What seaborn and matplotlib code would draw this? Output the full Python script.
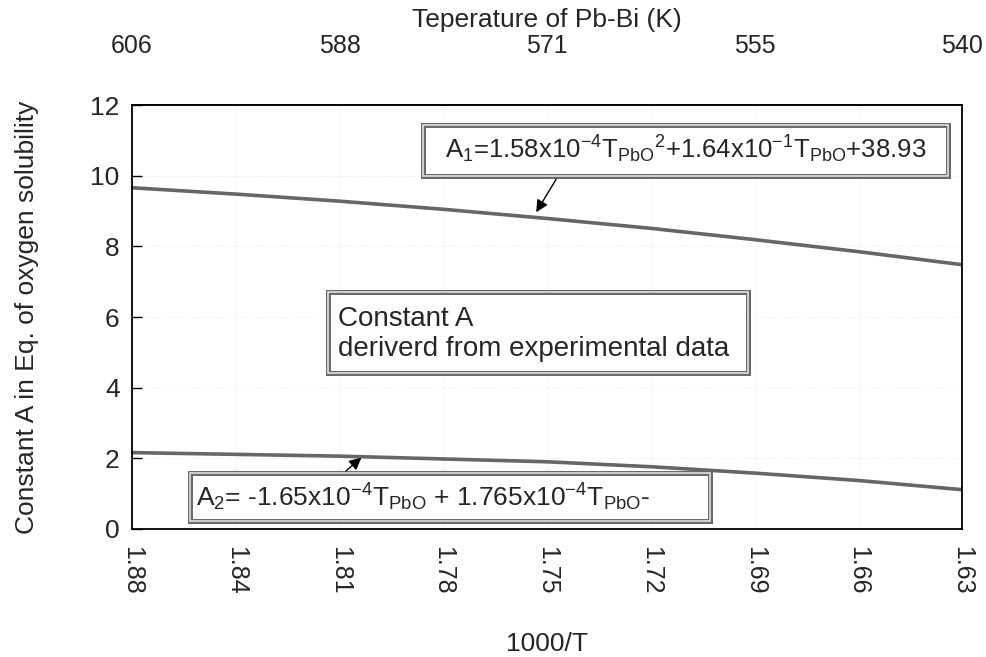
import pandas as pd
import matplotlib
matplotlib.use('Agg')
import matplotlib.pyplot as plt
from matplotlib.patches import Rectangle
import seaborn as sns

sns.set_theme(style='white')
plt.rcParams['font.family'] = ['Liberation Sans', 'DejaVu Sans']
plt.rcParams['mathtext.fontset'] = 'custom'
plt.rcParams['mathtext.rm'] = 'Liberation Sans'
plt.rcParams['mathtext.it'] = 'Liberation Sans:italic'

# data
inv_T_labels = ['1.88', '1.84', '1.81', '1.78', '1.75', '1.72', '1.69', '1.66', '1.63']
temp_labels = ['606', '588', '571', '555', '540']
A1 = [9.66, 9.48, 9.28, 9.05, 8.79, 8.51, 8.19, 7.85, 7.48]
A2 = [2.16, 2.11, 2.06, 1.98, 1.90, 1.76, 1.58, 1.37, 1.11]

pos = list(range(len(inv_T_labels)))
df = pd.DataFrame({'pos': pos * 2,
                   'A': A1 + A2,
                   'serie': ['A1'] * len(A1) + ['A2'] * len(A2)})

fig = plt.figure(figsize=(9.86, 6.57), dpi=100)
ax = fig.add_axes([0.134, 0.195, 0.842, 0.645])

sns.lineplot(data=df, x='pos', y='A', units='serie', estimator=None,
             color='#666666', lw=2.6, ax=ax)

ax.set_xlim(0, 8)
ax.set_ylim(0, 12)
ax.set_yticks(range(0, 13, 2))
ax.set_xticks(pos)
ax.set_xticklabels(inv_T_labels, rotation=270, fontsize=18)
ax.tick_params(axis='x', length=0, pad=12)
ax.tick_params(axis='y', direction='in', length=7, width=1, color='black',
               labelsize=19, pad=9, left=True)
ax.set_xlabel('1000/T', fontsize=19, labelpad=27)
ax.set_ylabel('Constant A in Eq. of oxygen solubility', fontsize=19, labelpad=37)
ax.grid(True, color='#e6e6e6', ls=':', lw=0.6)
for s in ax.spines.values():
    s.set_color('black')
    s.set_linewidth(1.3)

top = ax.secondary_xaxis('top')
top.set_xticks(pos[::2])
top.set_xticklabels(temp_labels, fontsize=18)
top.tick_params(length=0, pad=34)
top.set_xlabel('Teperature of Pb-Bi (K)', fontsize=19, labelpad=5)


def frame(x0, y0, x1, y1):
    # double border like the original
    ax.add_patch(Rectangle((x0, y0), x1 - x0, y1 - y0, fc='white', ec='#6a6a6a',
                           lw=3.6, zorder=4))
    ax.add_patch(Rectangle((x0, y0), x1 - x0, y1 - y0, fc='none', ec='#e0e0e0',
                           lw=1.2, zorder=4))


frame(2.80, 10.0, 7.86, 11.44)
ax.text(5.33, 10.74, r'A$_1$=1.58x10$^{-4}$T$_{\mathrm{PbO}}$$^{2}$+1.64x10$^{-1}$T$_{\mathrm{PbO}}$+38.93',
        ha='center', va='center', fontsize=18.5, zorder=5)

frame(0.555, 0.23, 5.57, 1.59)
ax.text(0.62, 0.90, r'A$_2$= -1.65x10$^{-4}$T$_{\mathrm{PbO}}$ + 1.765x10$^{-4}$T$_{\mathrm{PbO}}$-',
        ha='left', va='center', fontsize=19, zorder=5)

frame(1.89, 4.42, 5.93, 6.71)
ax.text(1.98, 5.53, 'Constant A\nderiverd from experimental data',
        ha='left', va='center', fontsize=20, zorder=5)

arrow = dict(arrowstyle='-|>', color='black', lw=1, mutation_scale=18)
ax.annotate('', xy=(3.88, 8.90), xytext=(4.10, 9.97), arrowprops=arrow, zorder=7)
ax.annotate('', xy=(2.23, 2.07), xytext=(2.04, 1.59), arrowprops=arrow, zorder=7)

plt.savefig('out.png', dpi=100)
